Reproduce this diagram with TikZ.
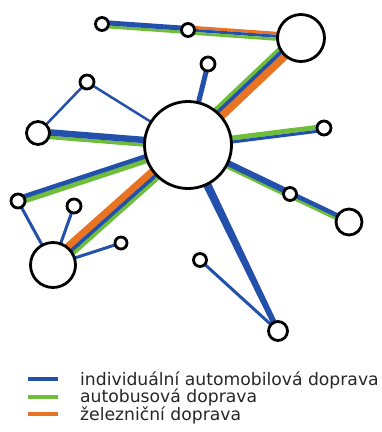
\documentclass[tikz,border=0pt]{standalone}
\usepackage{fontspec}
\setmainfont{DejaVu Sans}
\usetikzlibrary{calc}
\definecolor{cblue}{RGB}{35,80,170}
\definecolor{cgreen}{RGB}{110,190,60}
\definecolor{corange}{RGB}{232,115,35}
\pgfdeclarelayer{bg}
\pgfsetlayers{bg,main}
\newcommand\band[5]{\draw[line width=#5pt,#4] ($(#1)!#3pt!-90:(#2)$) -- ($(#2)!#3pt!90:(#1)$);}
\tikzset{
  stn/.style={circle,draw=black,line width=2.8pt,fill=white,inner sep=0pt,minimum size=#1pt},
  legtext/.style={anchor=base west,inner sep=0pt,font=\fontsize{17.2}{17.5}\selectfont,text=black!85},
  legline/.style={line width=4pt}
}
\begin{document}
\begin{tikzpicture}[x=1pt,y=-1pt]
\useasboundingbox (0,0) rectangle (382,432);
% stations
\node[stn=87] (C) at (188,145) {};
\node[stn=47] (T) at (301,38) {};
\node[stn=13] (n1) at (102,24) {};
\node[stn=13] (n2) at (188,30) {};
\node[stn=14] (n3) at (208,64) {};
\node[stn=14] (n4) at (87,82) {};
\node[stn=23] (L) at (38,133) {};
\node[stn=14] (R1) at (324,128) {};
\node[stn=14] (LL) at (18,201) {};
\node[stn=14] (n5) at (74,206) {};
\node[stn=13] (R2) at (290,194) {};
\node[stn=26] (R3) at (349,222) {};
\node[stn=45] (BL) at (53,265) {};
\node[stn=12] (n6) at (121,243) {};
\node[stn=13] (S) at (200,260) {};
\node[stn=19] (B) at (278,331) {};
\begin{pgfonlayer}{bg}
% n1 - n2
\band{n1.center}{n2.center}{2.5}{cgreen}{3}
\band{n1.center}{n2.center}{-1.5}{cblue}{5}
% n2 - T
\band{n2.center}{T.center}{-3}{corange}{3}
\band{n2.center}{T.center}{0}{cblue}{3}
\band{n2.center}{T.center}{3}{cgreen}{3}
% T - C
\band{T.center}{C.center}{7}{cgreen}{3.8}
\band{T.center}{C.center}{3.3}{cblue}{4}
\band{T.center}{C.center}{-2.2}{corange}{7.5}
% C - n3
\draw[cblue,line width=5pt] (C.center) -- (n3.center);
% thin links
\draw[cblue,line width=2.5pt] (n4.center) -- (C.center);
\draw[cblue,line width=2.5pt] (n4.center) -- (L.center);
% L - C
\band{L.center}{C.center}{3.5}{cgreen}{3.5}
\band{L.center}{C.center}{-1.5}{cblue}{6.5}
% C - R1
\band{C.center}{R1.center}{-1.5}{cgreen}{5}
\band{C.center}{R1.center}{2.5}{cblue}{3}
% C - LL
\band{C.center}{LL.center}{-2}{cgreen}{5}
\band{C.center}{LL.center}{2.5}{cblue}{4.5}
% C - BL
\band{C.center}{BL.center}{4}{corange}{7}
\band{C.center}{BL.center}{-1.5}{cblue}{4}
\band{C.center}{BL.center}{-5}{cgreen}{3.5}
% C - R2 - R3
\band{C.center}{R2.center}{3}{cgreen}{3}
\band{C.center}{R2.center}{-1}{cblue}{6}
\band{R2.center}{R3.center}{2.5}{cgreen}{3}
\band{R2.center}{R3.center}{-1}{cblue}{4.5}
% C - B tapered
\fill[cblue] ($(C.center)!4.5pt!90:(B.center)$) -- ($(C.center)!4.5pt!-90:(B.center)$)
  -- ($(B.center)!2.8pt!90:(C.center)$) -- ($(B.center)!2.8pt!-90:(C.center)$) -- cycle;
\draw[cblue,line width=3pt] (S.center) -- (B.center);
% links to BL
\draw[cblue,line width=3pt] (LL.center) -- (BL.center);
\draw[cblue,line width=3pt] (n5.center) -- (BL.center);
\draw[cblue,line width=3pt] (n6.center) -- (BL.center);
\end{pgfonlayer}
% legend
\draw[cblue,legline] (28,379) -- (58,379);
\draw[cgreen,legline] (28,397) -- (58,397);
\draw[corange,legline] (28,414) -- (58,414);
\node[legtext] (t1) at (80,385) {individuální automobilová doprava};
\node[legtext] (t2) at (80,402.5) {autobusová doprava};
\node[legtext] (t3) at (80,420) {železniční doprava};
\end{tikzpicture}
\end{document}
